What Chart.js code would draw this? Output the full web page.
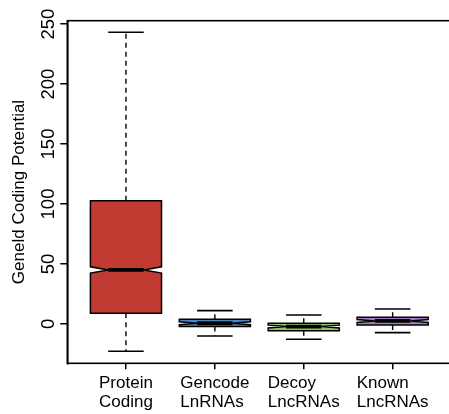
<!DOCTYPE html>
<html>
<head>
<meta charset="utf-8">
<script src="https://cdn.jsdelivr.net/npm/chart.js@4/dist/chart.umd.min.js"></script>
<style>
  html, body { margin: 0; padding: 0; background: #fff; overflow: hidden; }
  #wrap { position: absolute; left: 0; top: 0; width: 452px; height: 414px; }
</style>
</head>
<body>
<div id="wrap"><canvas id="c"></canvas></div>
<script>
// ---- data ----
const categories = [["Protein", "Coding"], ["Gencode", "LnRNAs"], ["Decoy", "LncRNAs"], ["Known", "LncRNAs"]];
const whiskerLow  = [-22.8, -10.0, -12.8, -7.2];
const lowerHinge  = [8.9, -2.2, -5.6, -0.8];
const medians     = [45.0, 0.6, -2.2, 2.5];
const upperHinge  = [102.8, 3.9, 0.6, 5.6];
const whiskerHigh = [243.2, 11.1, 7.5, 12.5];
const notchHalf   = [2.6, 1.2, 1.2, 1.2];
const boxColors   = ["#C23B33", "#4F86C6", "#8CC46D", "#A47BC3"];
const yTicks      = [0, 50, 100, 150, 200, 250];
const yTitle      = "Geneld Coding Potential";

const FONT = '"Liberation Sans", Arial, Helvetica, sans-serif';

const boxPlugin = {
  id: 'boxes',
  afterDatasetsDraw(chart) {
    const { ctx, scales: { x, y } } = chart;
    const px = v => x.getPixelForValue(v);
    const py = v => y.getPixelForValue(v);
    ctx.save();
    ctx.strokeStyle = '#000';
    categories.forEach((c, i) => {
      const cx = i + 1;
      const xc = px(cx);
      // whiskers (dashed)
      ctx.lineWidth = 1.4;
      ctx.setLineDash([5, 4]);
      ctx.beginPath();
      ctx.moveTo(xc, py(upperHinge[i])); ctx.lineTo(xc, py(whiskerHigh[i]));
      ctx.moveTo(xc, py(lowerHinge[i])); ctx.lineTo(xc, py(whiskerLow[i]));
      ctx.stroke();
      // staples
      ctx.setLineDash([]);
      ctx.lineWidth = 1.6;
      ctx.beginPath();
      ctx.moveTo(px(cx - 0.2), py(whiskerHigh[i])); ctx.lineTo(px(cx + 0.2), py(whiskerHigh[i]));
      ctx.moveTo(px(cx - 0.2), py(whiskerLow[i])); ctx.lineTo(px(cx + 0.2), py(whiskerLow[i]));
      ctx.stroke();
      // notched box
      const xl = px(cx - 0.4), xr = px(cx + 0.4), xml = px(cx - 0.2), xmr = px(cx + 0.2);
      const q1 = py(lowerHinge[i]), q3 = py(upperHinge[i]), md = py(medians[i]);
      const nlo = py(medians[i] - notchHalf[i]), nhi = py(medians[i] + notchHalf[i]);
      ctx.beginPath();
      ctx.moveTo(xl, q1); ctx.lineTo(xl, nlo); ctx.lineTo(xml, md); ctx.lineTo(xl, nhi); ctx.lineTo(xl, q3);
      ctx.lineTo(xr, q3); ctx.lineTo(xr, nhi); ctx.lineTo(xmr, md); ctx.lineTo(xr, nlo); ctx.lineTo(xr, q1);
      ctx.closePath();
      ctx.fillStyle = boxColors[i];
      ctx.fill();
      ctx.lineWidth = 1.5;
      ctx.stroke();
      // median
      ctx.lineWidth = 3.8;
      ctx.beginPath();
      ctx.moveTo(xml, md); ctx.lineTo(xmr, md);
      ctx.stroke();
    });
    ctx.restore();
  },
  afterDraw(chart) {
    const { ctx, chartArea: a, scales: { x, y } } = chart;
    ctx.save();
    // frame
    ctx.strokeStyle = '#000';
    ctx.lineWidth = 1.6;
    ctx.strokeRect(a.left, a.top, a.right - a.left, a.bottom - a.top);
    ctx.fillStyle = '#000';
    // x category labels: block centred on tick, lines left-aligned (as R does)
    ctx.font = '17px ' + FONT;
    ctx.textAlign = 'left';
    ctx.textBaseline = 'alphabetic';
    categories.forEach((lines, i) => {
      const w = Math.max(...lines.map(t => ctx.measureText(t).width));
      const left = x.getPixelForValue(i + 1) - w / 2;
      lines.forEach((t, k) => ctx.fillText(t, left, a.bottom + 25 + k * 18.5));
    });
    // rotated y tick labels
    ctx.font = '18.5px ' + FONT;
    ctx.textAlign = 'center';
    yTicks.forEach(v => {
      ctx.save();
      ctx.translate(54, y.getPixelForValue(v));
      ctx.rotate(-Math.PI / 2);
      ctx.fillText(String(v), 0, 0);
      ctx.restore();
    });
    // y title
    ctx.font = '17px ' + FONT;
    ctx.save();
    ctx.translate(24, (a.top + a.bottom) / 2);
    ctx.rotate(-Math.PI / 2);
    ctx.fillText(yTitle, 0, 0);
    ctx.restore();
    ctx.restore();
  }
};

new Chart(document.getElementById('c'), {
  type: 'scatter',
  data: {
    datasets: [{
      label: 'median',
      data: medians.map((m, i) => ({ x: i + 1, y: m })),
      pointRadius: 0,
      pointHoverRadius: 0,
      showLine: false
    }]
  },
  options: {
    responsive: true,
    maintainAspectRatio: false,
    animation: false,
    events: [],
    layout: { padding: { top: 20.7, right: 0.7, left: 0, bottom: 0 } },
    plugins: { legend: { display: false }, tooltip: { enabled: false }, title: { display: false } },
    scales: {
      x: {
        type: 'linear',
        min: 0.34,
        max: 4.66,
        afterFit: s => { s.height = 50.7; },
        border: { display: false },
        grid: { drawOnChartArea: false, drawTicks: true, tickLength: 6, color: '#000', lineWidth: 1.5 },
        ticks: {
          stepSize: 1,
          includeBounds: false,
          autoSkip: false,
          maxRotation: 0,
          minRotation: 0,
          display: false,
          callback: v => categories[Math.round(v) - 1] || ''
        }
      },
      y: {
        type: 'linear',
        min: -32.8,
        max: 252.8,
        afterFit: s => { s.width = 67.3; },
        border: { display: true, color: '#000', width: 1.6 },
        grid: { drawOnChartArea: false, drawTicks: true, tickLength: 7, color: '#000', lineWidth: 1.5 },
        ticks: {
          stepSize: 50,
          includeBounds: false,
          display: false,
          color: '#000'
        }
      }
    }
  },
  plugins: [boxPlugin]
});
</script>
</body>
</html>
